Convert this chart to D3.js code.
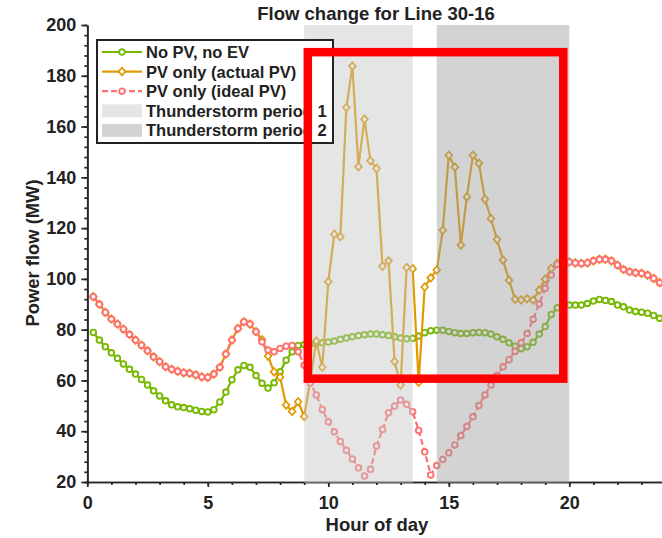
<!DOCTYPE html>
<html>
<head>
<meta charset="utf-8">
<script src="https://cdn.jsdelivr.net/npm/d3@7"></script>
<style>
    body { margin: 0; background: #fff; }
    text { font-family: "Liberation Sans", Arial, Helvetica, sans-serif; font-weight: bold; fill: #222; }
</style>
</head>
<body>
<script>
// 15-minute samples, 0.25 h ... 24 h
var hours = d3.range(1, 97).map(function (k) { return k * 0.25; });

var noPvNoEv = [78.9, 75.9, 73.3, 70.9, 68.7, 66.5, 64.4, 62.5, 60.4, 58.2,
    55.9, 53.9, 52.0, 50.4, 49.6, 49.3, 48.9, 48.3, 47.8, 47.6,
    48.5, 51.5, 55.4, 60.3, 64.2, 65.9, 65.2, 61.9, 58.9, 57.0,
    59.1, 63.4, 68.0, 71.3, 73.8, 74.1, 74.4, 74.6, 74.8, 75.1,
    75.5, 76.2, 76.7, 77.2, 77.7, 78.0, 78.3, 78.3, 78.0, 77.7,
    77.2, 76.7, 76.4, 76.6, 77.5, 78.8, 79.6, 79.8, 79.8, 79.3,
    78.8, 78.5, 78.5, 78.8, 78.9, 78.8, 78.3, 77.2, 76.2, 74.8,
    73.5, 72.5, 73.3, 75.0, 78.3, 81.2, 86.0, 88.6, 89.5, 89.7,
    89.7, 89.7, 90.3, 91.3, 91.9, 91.5, 91.1, 89.7, 89.0, 87.7,
    87.2, 86.9, 86.5, 85.6, 84.5, 83.3];

var pvActual = [93.0, 90.0, 86.8, 84.2, 82.2, 80.2, 78.1, 75.9, 73.9, 71.7,
    69.3, 67.4, 65.4, 64.4, 63.6, 63.0, 62.8, 62.2, 61.4, 61.2,
    62.5, 65.2, 70.4, 75.9, 80.5, 83.1, 82.2, 79.2, 76.0, 69.6,
    63.4, 61.3, 50.3, 47.8, 51.6, 45.8, 60.0, 75.5, 65.2, 98.9,
    117.6, 116.6, 167.5, 183.8, 144.2, 162.9, 146.5, 143.5, 105.0, 107.1,
    67.5, 58.2, 104.5, 104.0, 59.3, 96.8, 100.4, 103.5, 119.2, 148.7,
    144.0, 113.3, 132.3, 148.7, 145.5, 131.4, 123.8, 115.5, 107.4, 99.5,
    92.0, 91.7, 92.2, 91.7, 95.6, 99.9, 104.1, 106.1, 106.5, 106.7,
    106.3, 106.1, 106.3, 107.1, 107.7, 107.7, 107.1, 105.4, 103.7, 102.8,
    102.4, 102.2, 101.5, 100.2, 98.5, 97.3];

var pvIdeal = [93.0, 90.0, 86.8, 84.2, 82.2, 80.2, 78.1, 75.9, 73.9, 71.7,
    69.3, 67.4, 65.4, 64.4, 63.6, 63.0, 62.8, 62.2, 61.4, 61.2,
    62.5, 65.2, 70.4, 75.9, 80.5, 83.1, 82.2, 79.2, 75.2, 72.0,
    71.3, 72.6, 73.5, 73.8, 71.3, 66.0, 59.0, 54.3, 48.6, 43.7,
    39.8, 36.0, 32.5, 29.1, 25.6, 22.4, 25.0, 34.2, 40.7, 47.3,
    49.9, 52.3, 50.6, 47.7, 40.3, 31.9, 22.8, 26.5, 28.9, 31.5,
    34.6, 38.3, 41.9, 45.7, 50.1, 54.3, 58.2, 61.9, 65.4, 68.2,
    71.5, 74.8, 78.5, 84.1, 90.1, 96.3, 101.5, 105.8, 106.5, 106.7,
    106.3, 106.1, 106.3, 107.1, 107.7, 107.7, 107.1, 105.4, 103.7, 102.8,
    102.4, 102.2, 101.5, 100.2, 98.5, 97.3];

var seriesNames = ["No PV, no EV", "PV only (actual PV)", "PV only (ideal PV)"];
var periodNames = ["Thunderstorm period 1", "Thunderstorm period 2"];
var periodStart = [9, 14.5];
var periodEnd = [13.5, 20];
var xTicks = [0, 5, 10, 15, 20];
var yTicks = [20, 40, 60, 80, 100, 120, 140, 160, 180, 200];
// red highlight drawn on the figure (hours / MW)
var boxHours = [9.15, 19.75];
var boxFlow = [60.7, 189.3];

var width = 662, height = 538;
var x = d3.scaleLinear().domain([0, 24]).range([87.3, 665.7]);
var y = d3.scaleLinear().domain([20, 200]).range([482, 25]);

var svg = d3.select("body").append("svg")
    .attr("width", width)
    .attr("height", height);

// axes
var axisColor = "#262626";
function styleAxis(g) {
    g.selectAll("path,line").attr("stroke", axisColor).attr("stroke-width", 1.7);
    g.selectAll("text").style("font-size", "18px").attr("fill", "#222");
}
svg.append("g").attr("transform", "translate(" + x(0) + ",0)")
    .call(d3.axisLeft(y).tickValues(d3.range(20, 201, 4)).tickSize(3).tickSizeOuter(0).tickFormat(""))
    .call(styleAxis);
svg.append("g").attr("transform", "translate(" + x(0) + ",0)")
    .call(d3.axisLeft(y).tickValues(yTicks).tickSize(6).tickSizeOuter(0).tickPadding(5))
    .call(styleAxis);
svg.append("g").attr("transform", "translate(0," + y(20) + ")")
    .call(d3.axisBottom(x).tickValues(d3.range(0, 25, 1)).tickSize(3).tickSizeOuter(0).tickFormat(""))
    .call(styleAxis);
svg.append("g").attr("transform", "translate(0," + y(20) + ")")
    .call(d3.axisBottom(x).tickValues(xTicks).tickSize(5).tickSizeOuter(0).tickPadding(9))
    .call(styleAxis);

// series
var colors = ["#77b800", "#e09a00", "#ff7070"];
var data = [noPvNoEv, pvActual, pvIdeal];
var line = d3.line()
    .x(function (d, i) { return x(hours[i]); })
    .y(function (d) { return y(d); });
var diamond = "M0,-3.8L3.4,0L0,3.8L-3.4,0Z";

data.forEach(function (vals, s) {
    var g = svg.append("g");
    g.append("path")
        .attr("d", line(vals))
        .attr("fill", "none")
        .attr("stroke", colors[s])
        .attr("stroke-width", 2.2)
        .attr("stroke-dasharray", s === 2 ? "6,3" : null);
    if (s === 1) {
        g.selectAll("path.m").data(vals).enter().append("path")
            .attr("class", "m")
            .attr("d", diamond)
            .attr("transform", function (d, i) { return "translate(" + x(hours[i]) + "," + y(d) + ")"; })
            .attr("fill", "#fff")
            .attr("stroke", colors[s])
            .attr("stroke-width", 1.7);
    } else {
        g.selectAll("circle").data(vals).enter().append("circle")
            .attr("cx", function (d, i) { return x(hours[i]); })
            .attr("cy", function (d) { return y(d); })
            .attr("r", 2.8)
            .attr("fill", "#fff")
            .attr("stroke", colors[s])
            .attr("stroke-width", 1.9);
    }
});

// thunderstorm shading (semi-transparent, over the lines)
var shadeFill = ["#c6c6c6", "#9e9e9e"];
svg.selectAll("rect.period").data(periodStart).enter().append("rect")
    .attr("class", "period")
    .attr("x", function (d) { return x(d); })
    .attr("width", function (d, i) { return x(periodEnd[i]) - x(d); })
    .attr("y", y(200))
    .attr("height", y(20) - y(200) + 1)
    .attr("fill", function (d, i) { return shadeFill[i]; })
    .attr("fill-opacity", 0.45);

// legend
var legend = svg.append("g").attr("transform", "translate(97,40)");
legend.append("rect")
    .attr("width", 236).attr("height", 103)
    .attr("fill", "#fff").attr("stroke", "#222").attr("stroke-width", 2);
seriesNames.forEach(function (name, i) {
    var row = legend.append("g").attr("transform", "translate(0," + (12 + i * 19.6) + ")");
    row.append("line").attr("x1", 5).attr("x2", 45)
        .attr("stroke", colors[i]).attr("stroke-width", 2.2)
        .attr("stroke-dasharray", i === 2 ? "6,3" : null);
    if (i === 1) {
        row.append("path").attr("d", diamond).attr("transform", "translate(25,0)")
            .attr("fill", "#fff").attr("stroke", colors[i]).attr("stroke-width", 1.7);
    } else {
        row.append("circle").attr("cx", 25).attr("r", 2.8)
            .attr("fill", "#fff").attr("stroke", colors[i]).attr("stroke-width", 1.9);
    }
    row.append("text").attr("x", 49).attr("dy", "0.36em").style("font-size", "16.5px").text(name);
});
periodNames.forEach(function (name, i) {
    var row = legend.append("g").attr("transform", "translate(0," + (12 + (i + 3) * 19.6) + ")");
    row.append("rect").attr("x", 5).attr("y", -6.5).attr("width", 40).attr("height", 13)
        .attr("fill", shadeFill[i]).attr("fill-opacity", 0.45);
    row.append("text").attr("x", 49).attr("dy", "0.36em").style("font-size", "16.5px").text(name);
});

// red highlight box
svg.append("rect")
    .attr("x", x(boxHours[0]))
    .attr("y", y(boxFlow[1]))
    .attr("width", x(boxHours[1]) - x(boxHours[0]))
    .attr("height", y(boxFlow[0]) - y(boxFlow[1]))
    .attr("fill", "none")
    .attr("stroke", "#ff0000")
    .attr("stroke-width", 8.5);

// titles
svg.append("text")
    .attr("x", 376).attr("y", 20)
    .attr("text-anchor", "middle")
    .style("font-size", "18.5px")
    .text("Flow change for Line 30-16");
svg.append("text")
    .attr("x", 377).attr("y", 531)
    .attr("text-anchor", "middle")
    .style("font-size", "18.5px")
    .text("Hour of day");
svg.append("text")
    .attr("transform", "translate(39,253) rotate(-90)")
    .attr("text-anchor", "middle")
    .style("font-size", "18.4px")
    .text("Power flow (MW)");
</script>
</body>
</html>
